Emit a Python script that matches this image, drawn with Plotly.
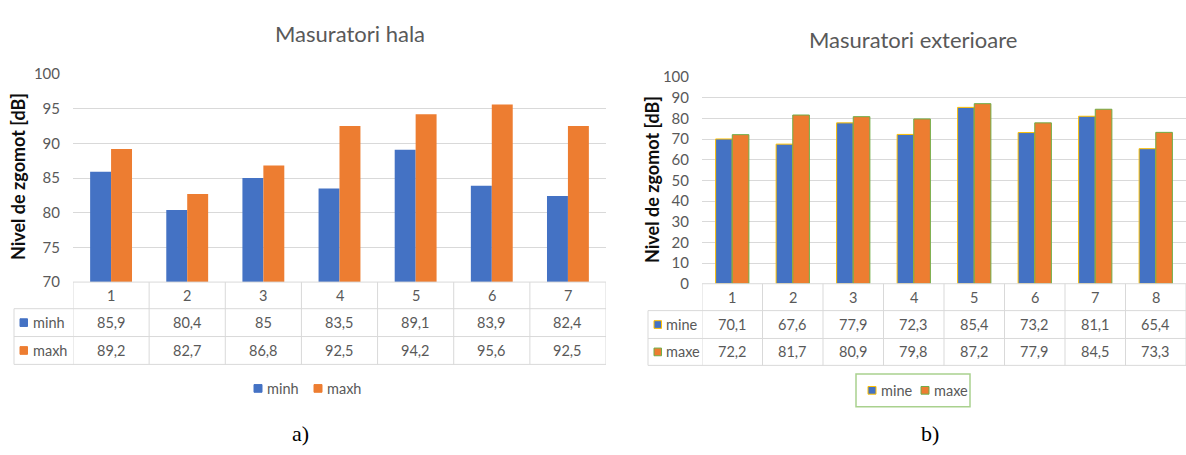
import plotly.graph_objects as go

W, H = 1186, 455

# ---- data ----
cats_hala = [1, 2, 3, 4, 5, 6, 7]
minh = [85.9, 80.4, 85, 83.5, 89.1, 83.9, 82.4]
maxh = [89.2, 82.7, 86.8, 92.5, 94.2, 95.6, 92.5]

cats_ext = [1, 2, 3, 4, 5, 6, 7, 8]
mine = [70.1, 67.6, 77.9, 72.3, 85.4, 73.2, 81.1, 65.4]
maxe = [72.2, 81.7, 80.9, 79.8, 87.2, 77.9, 84.5, 73.3]

title_a = "Masuratori hala"
title_b = "Masuratori exterioare"
ytitle = "Nivel de zgomot [dB]"

BLUE = "#4472C4"
ORANGE = "#ED7D31"
YEL = "#FFC000"
GRN = "#70AD47"
GRID = "#D9D9D9"
TXT = "#595959"
FONT = "Lato"


def px(x):
    return x / W


def py(y):
    return 1 - y / H


def fmt(v):
    return f"{v:g}".replace(".", ",")


fig = go.Figure()

fig.add_trace(go.Bar(x=cats_hala, y=minh, name="minh", marker=dict(color=BLUE, line=dict(width=0)),
                     xaxis="x", yaxis="y", showlegend=False))
fig.add_trace(go.Bar(x=cats_hala, y=maxh, name="maxh", marker=dict(color=ORANGE, line=dict(width=0)),
                     xaxis="x", yaxis="y", showlegend=False))
fig.add_trace(go.Bar(x=cats_ext, y=mine, name="mine", marker=dict(color=BLUE, line=dict(color=YEL, width=1)),
                     xaxis="x2", yaxis="y2", showlegend=False))
fig.add_trace(go.Bar(x=cats_ext, y=maxe, name="maxe", marker=dict(color=ORANGE, line=dict(color=GRN, width=1)),
                     xaxis="x2", yaxis="y2", showlegend=False))

shapes = []
annotations = []
TFS = 14.5  # table font size

tables = [
    dict(xa="x", cats=cats_hala, series=[("minh", minh, BLUE, None), ("maxh", maxh, ORANGE, None)],
         left=14, plotleft=73, top=283.3, rows=[311, 340, 369], sqx=20, txtx=31),
    dict(xa="x2", cats=cats_ext, series=[("mine", mine, BLUE, YEL), ("maxe", maxe, ORANGE, GRN)],
         left=648, plotleft=702, top=285, rows=[313, 342, 370], sqx=654, txtx=664),
]

for t in tables:
    xa = t["xa"]
    n = len(t["cats"])
    top = t["top"]
    r1, r2, r3 = t["rows"]
    shapes.append(dict(type="line", xref=xa, yref="paper", x0=0.5, x1=n + 0.5, y0=py(top), y1=py(top),
                       line=dict(color=GRID, width=1)))
    for yy in (r1, r2, r3):
        shapes.append(dict(type="line", xref=xa, yref="paper", x0=0.5, x1=n + 0.5, y0=py(yy), y1=py(yy),
                           line=dict(color=GRID, width=1)))
        shapes.append(dict(type="line", xref="paper", yref="paper", x0=px(t["left"]), x1=px(t["plotleft"]),
                           y0=py(yy), y1=py(yy), line=dict(color=GRID, width=1)))
    for k in range(n + 1):
        shapes.append(dict(type="line", xref=xa, yref="paper", x0=0.5 + k, x1=0.5 + k, y0=py(top), y1=py(r3),
                           line=dict(color=GRID, width=1)))
    shapes.append(dict(type="line", xref="paper", yref="paper", x0=px(t["left"]), x1=px(t["left"]),
                       y0=py(r1), y1=py(r3), line=dict(color=GRID, width=1)))
    for c in t["cats"]:
        annotations.append(dict(xref=xa, yref="paper", x=c, y=py((top + r1) / 2), text=str(c), showarrow=False,
                                font=dict(family=FONT, size=TFS, color=TXT), xanchor="center", yanchor="middle"))
    for (name, vals, col, lc), (ya, yb) in zip(t["series"], [(r1, r2), (r2, r3)]):
        yc = (ya + yb) / 2
        shapes.append(dict(type="rect", xref="paper", yref="paper", x0=px(t["sqx"]), x1=px(t["sqx"] + 7.5),
                           y0=py(yc - 4), y1=py(yc + 4), fillcolor=col,
                           line=dict(color=lc if lc else col, width=1)))
        annotations.append(dict(xref="paper", yref="paper", x=px(t["txtx"]), y=py(yc), text=name, showarrow=False,
                                font=dict(family=FONT, size=TFS, color=TXT), xanchor="left", yanchor="middle"))
        for c, v in zip(t["cats"], vals):
            annotations.append(dict(xref=xa, yref="paper", x=c, y=py(yc), text=fmt(v), showarrow=False,
                                    font=dict(family=FONT, size=TFS, color=TXT), xanchor="center",
                                    yanchor="middle"))

# legend keys below each table
legends = [
    dict(items=[("minh", BLUE, None, 254), ("maxh", ORANGE, None, 314)], yc=394, box=None),
    dict(items=[("mine", BLUE, YEL, 868), ("maxe", ORANGE, GRN, 921)], yc=396, box=(856, 379, 970, 413)),
]
for lg in legends:
    yc = lg["yc"]
    for name, col, lc, x0 in lg["items"]:
        shapes.append(dict(type="rect", xref="paper", yref="paper", x0=px(x0), x1=px(x0 + 8),
                           y0=py(yc - 4), y1=py(yc + 4), fillcolor=col,
                           line=dict(color=lc if lc else col, width=1)))
        annotations.append(dict(xref="paper", yref="paper", x=px(x0 + 11), y=py(yc), text=name, showarrow=False,
                                font=dict(family=FONT, size=TFS, color=TXT), xanchor="left", yanchor="middle"))
    if lg["box"]:
        bx0, by0, bx1, by1 = lg["box"]
        shapes.append(dict(type="rect", xref="paper", yref="paper", x0=px(bx0), x1=px(bx1),
                           y0=py(by1), y1=py(by0), line=dict(color="#A9D18E", width=1.5)))

# titles
annotations.append(dict(xref="paper", yref="paper", x=px(350), y=py(24), text=title_a, showarrow=False,
                        font=dict(family=FONT, size=22, color=TXT), xanchor="center", yanchor="middle"))
annotations.append(dict(xref="paper", yref="paper", x=px(913), y=py(31), text=title_b, showarrow=False,
                        font=dict(family=FONT, size=22, color=TXT), xanchor="center", yanchor="middle"))
# y-axis titles
for xc, yc in ((18, 174), (652, 177)):
    annotations.append(dict(xref="paper", yref="paper", x=px(xc), y=py(yc), text="<b>" + ytitle + "</b>",
                            showarrow=False, textangle=-90, font=dict(family=FONT, size=18, color="#0D0D0D"),
                            xanchor="center", yanchor="middle"))
# captions
annotations.append(dict(xref="paper", yref="paper", x=px(300), y=py(441), text="a)", showarrow=False,
                        font=dict(family="Liberation Serif", size=22, color="#000000"),
                        xanchor="center", yanchor="middle"))
annotations.append(dict(xref="paper", yref="paper", x=px(930), y=py(441), text="b)", showarrow=False,
                        font=dict(family="Liberation Serif", size=22, color="#000000"),
                        xanchor="center", yanchor="middle"))

axis_common = dict(showgrid=False, zeroline=False, showline=False, showticklabels=False, ticks="")
yaxis_common = dict(showgrid=True, gridcolor=GRID, gridwidth=1, zeroline=False, showline=False, ticks="",
                    tickfont=dict(family=FONT, size=15, color=TXT), ticklabelstandoff=12)

fig.update_layout(
    width=W, height=H, autosize=False,
    margin=dict(l=0, r=0, t=0, b=0),
    paper_bgcolor="white", plot_bgcolor="white",
    barmode="group", bargap=0.45, bargroupgap=0,
    xaxis=dict(domain=[px(73), px(606)], range=[0.5, len(cats_hala) + 0.5], anchor="y", **axis_common),
    yaxis=dict(domain=[py(283.3), py(66.7)], range=[70, 100], dtick=5, anchor="x", **yaxis_common),
    xaxis2=dict(domain=[px(702), 1.0], range=[0.5, len(cats_ext) + 0.5], anchor="y2", **axis_common),
    yaxis2=dict(domain=[py(285), py(70)], range=[0, 100], dtick=10, anchor="x2", **yaxis_common),
    shapes=shapes,
    annotations=annotations,
    showlegend=False,
)

fig.write_html(
    "out.html",
    config={"displayModeBar": False},
    post_script="document.body.style.margin='0';document.body.style.overflow='hidden';",
)
